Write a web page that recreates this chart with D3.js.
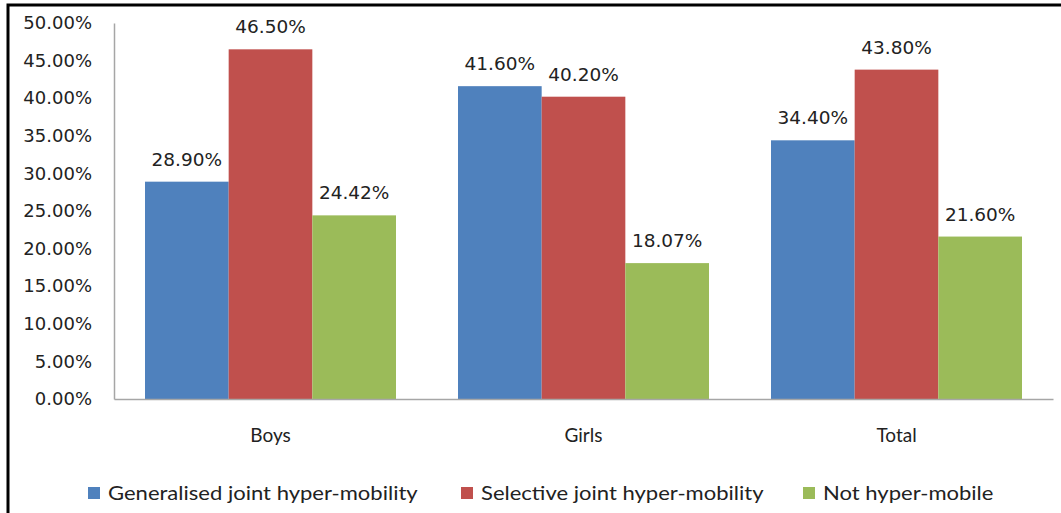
<!DOCTYPE html>
<html>
<head>
<meta charset="utf-8">
<script src="https://cdn.jsdelivr.net/npm/d3@7"></script>
<style>
  html, body { margin: 0; padding: 0; background: #fff; }
  svg { display: block; }
  text { fill: #222; }
</style>
</head>
<body>
<svg id="chart" width="1061" height="513"></svg>
<script>
// Groups along the x axis
const categories = ["Boys", "Girls", "Total"];
// Series names and colours
const series = ["Generalised joint hyper-mobility", "Selective joint hyper-mobility", "Not hyper-mobile"];
const colors = ["#4F81BD", "#C0504D", "#9BBB59"];
// Percentages per series, in category order
const generalised = [28.90, 41.60, 34.40];
const selective = [46.50, 40.20, 43.80];
const notMobile = [24.42, 18.07, 21.60];
// Y axis ticks
const yTicks = [0, 5, 10, 15, 20, 25, 30, 35, 40, 45, 50];

const values = [generalised, selective, notMobile];
const svg = d3.select("#chart");
const numFont = "DejaVu Sans";
const txtFont = "Lato";

// outer frame
svg.append("rect")
  .attr("x", 8).attr("y", 5)
  .attr("width", 1100).attr("height", 600)
  .attr("fill", "none").attr("stroke", "#000").attr("stroke-width", 3);

const plotL = 114, plotR = 1053, plotT = 23, plotB = 399;
const y = d3.scaleLinear().domain([0, 50]).range([plotB, plotT]);
const x0 = d3.scaleBand().domain(categories).range([plotL, plotR]).padding(0);
const x1 = d3.scaleBand().domain(d3.range(series.length))
  .range([31, x0.bandwidth() - 31]).padding(0);

// y axis
const yAxis = d3.axisLeft(y).tickValues(yTicks).tickSize(0).tickPadding(22)
  .tickFormat(d => d.toFixed(2) + "%");
const gy = svg.append("g").attr("transform", `translate(${plotL},0)`).call(yAxis);
gy.select(".domain").attr("stroke", "#A6A6A6").attr("stroke-width", 1.5);
gy.selectAll("text").attr("font-family", numFont).attr("font-size", 18).attr("fill", "#222");

// bars
const groups = svg.append("g").selectAll("g")
  .data(categories).join("g")
  .attr("transform", d => `translate(${x0(d)},0)`);

groups.each(function(cat, ci) {
  const g = d3.select(this);
  series.forEach((s, si) => {
    const v = values[si][ci];
    g.append("rect")
      .attr("x", x1(si)).attr("width", x1.bandwidth())
      .attr("y", y(v)).attr("height", y(0) - y(v))
      .attr("fill", colors[si]);
    g.append("text")
      .attr("x", x1(si) + x1.bandwidth() / 2)
      .attr("y", y(v) - 16)
      .attr("text-anchor", "middle")
      .attr("font-family", numFont).attr("font-size", 18.5)
      .text(v.toFixed(2) + "%");
  });
});

// x axis
const xAxis = d3.axisBottom(x0).tickSize(0).tickPadding(0);
const gx = svg.append("g").attr("transform", `translate(0,${plotB})`).call(xAxis);
gx.select(".domain").attr("stroke", "#A6A6A6").attr("stroke-width", 1.5);
gx.selectAll("text").attr("font-family", txtFont).attr("font-size", 19)
  .attr("fill", "#222").attr("dy", null).attr("y", 43);

// legend (text slightly widened)
const legendX = [88, 461, 803];
const legend = svg.append("g").selectAll("g").data(series).join("g")
  .attr("transform", (d, i) => `translate(${legendX[i]},487)`);
legend.append("rect").attr("width", 12).attr("height", 12)
  .attr("fill", (d, i) => colors[i]);
legend.append("text")
  .attr("transform", "translate(20,12.5) scale(1.16,1)")
  .attr("font-family", txtFont).attr("font-size", 19)
  .text(d => d);
</script>
</body>
</html>
